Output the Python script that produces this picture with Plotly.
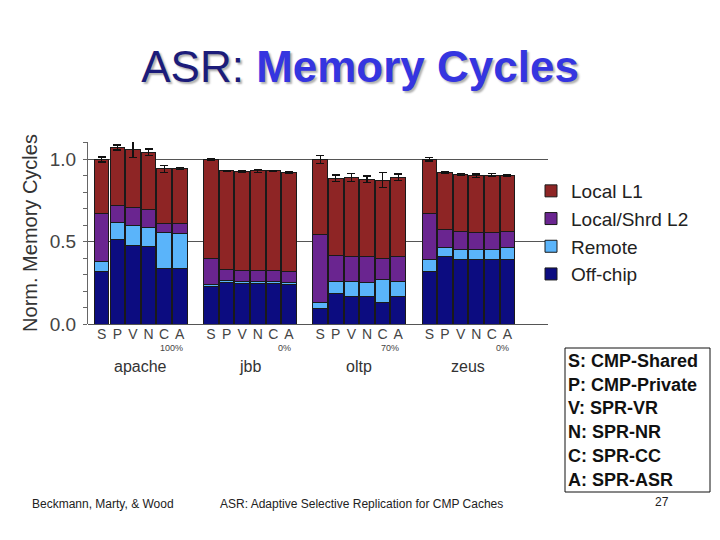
import plotly.graph_objects as go

workloads = ["apache", "jbb", "oltp", "zeus"]
configs = ["S", "P", "V", "N", "C", "A"]
pct_labels = ["100%", "0%", "70%", "0%"]
pct_offsets = [4.5, 4.7, 4.5, 4.7]

# segment heights per bar, workload by workload (S P V N C A)
off_chip = [0.318, 0.516, 0.480, 0.474, 0.340, 0.336,
            0.227, 0.251, 0.247, 0.247, 0.247, 0.239,
            0.095, 0.186, 0.166, 0.166, 0.132, 0.166,
            0.322, 0.409, 0.393, 0.393, 0.393, 0.389]
remote = [0.061, 0.102, 0.117, 0.113, 0.219, 0.213,
          0.016, 0.012, 0.010, 0.010, 0.012, 0.016,
          0.035, 0.071, 0.091, 0.087, 0.139, 0.091,
          0.067, 0.055, 0.061, 0.057, 0.061, 0.073]
local_l2 = [0.293, 0.105, 0.112, 0.106, 0.051, 0.061,
            0.156, 0.069, 0.067, 0.067, 0.069, 0.063,
            0.411, 0.158, 0.154, 0.156, 0.128, 0.156,
            0.283, 0.111, 0.107, 0.107, 0.103, 0.099]
local_l1 = [0.328, 0.350, 0.352, 0.350, 0.332, 0.336,
            0.601, 0.600, 0.603, 0.606, 0.602, 0.605,
            0.459, 0.470, 0.480, 0.470, 0.476, 0.478,
            0.328, 0.344, 0.348, 0.344, 0.348, 0.344]
err = [0.015, 0.015, 0.048, 0.020, 0.020, 0.005,
       0.003, 0.003, 0.003, 0.010, 0.003, 0.005,
       0.025, 0.020, 0.025, 0.020, 0.045, 0.020,
       0.010, 0.005, 0.008, 0.010, 0.008, 0.005]

key_lines = ["S: CMP-Shared", "P: CMP-Private", "V: SPR-VR",
             "N: SPR-NR", "C: SPR-CC", "A: SPR-ASR"]

# bar positions: 6 bars per workload, one empty slot between workloads
xpos = [g * 7 + i for g in range(len(workloads)) for i in range(len(configs))]
ticktext = configs * len(workloads)

font = "Liberation Sans, Arial"
outline = dict(color="#1a1a1a", width=1)

# page has an 8px body margin; plot area on screen is x 88..548, y 142..324
def px(x):
    return (x - 88) / 460

def py(y):
    return (324 - y) / 182

fig = go.Figure()
fig.add_trace(go.Bar(x=xpos, y=off_chip, name="Off-chip",
                     marker=dict(color="#0c0c80", line=outline)))
fig.add_trace(go.Bar(x=xpos, y=remote, name="Remote",
                     marker=dict(color="#5ab4fa", line=outline)))
fig.add_trace(go.Bar(x=xpos, y=local_l2, name="Local/Shrd L2",
                     marker=dict(color="#6a2590", line=outline)))
fig.add_trace(go.Bar(x=xpos, y=local_l1, name="Local L1",
                     marker=dict(color="#8e2525", line=outline),
                     error_y=dict(type="data", array=err, color="#111",
                                  thickness=1.2, width=4)))

for g, w in enumerate(workloads):
    fig.add_annotation(x=g * 7 + 2.5, y=py(366), xref="x", yref="paper",
                       yanchor="middle", text=w, showarrow=False,
                       font=dict(family=font, size=16, color="#333"))
    fig.add_annotation(x=g * 7 + pct_offsets[g], y=py(348), xref="x",
                       yref="paper", yanchor="middle", text=pct_labels[g],
                       showarrow=False,
                       font=dict(family=font, size=9, color="#444"))

# configuration key box
fig.add_shape(type="rect", xref="paper", yref="paper",
              x0=px(565), x1=px(710), y0=py(492), y1=py(348),
              line=dict(color="#111", width=1), fillcolor="white")
for k, line in enumerate(key_lines):
    fig.add_annotation(x=px(566), y=py(361 + k * 23.7),
                       xref="paper", yref="paper", xanchor="left",
                       yanchor="middle", text="<b>" + line + "</b>",
                       showarrow=False,
                       font=dict(family="Liberation Sans, Arial", size=18,
                                 color="#111"))

# footer
footer = [("Beckmann, Marty, & Wood", 30),
          ("ASR: Adaptive Selective Replication for CMP Caches", 218)]
for txt, x0 in footer:
    fig.add_annotation(x=px(x0), y=py(504), xref="paper", yref="paper",
                       xanchor="left", yanchor="middle", text=txt,
                       showarrow=False,
                       font=dict(family=font, size=12, color="#222"))
fig.add_annotation(x=px(671), y=py(502), xref="paper", yref="paper",
                   yanchor="middle", text="27", showarrow=False,
                   font=dict(family=font, size=12, color="#222"))

fig.update_layout(
    width=720, height=540,
    margin=dict(l=80, r=180, t=134, b=224, autoexpand=False),
    paper_bgcolor="white", plot_bgcolor="white",
    barmode="stack", bargap=0.07,
    title=dict(
        text="<span style='color:#1c1c7a'>ASR: </span>"
             "<b><span style='color:#3535e0'>Memory Cycles</span></b>",
        x=0.489, xanchor="center", y=1 - 59 / 540, yanchor="middle",
        font=dict(family="Liberation Sans, Arial", size=44,
                  shadow="2px 2px 2px #b0b0b0")),
    legend=dict(x=px(531), y=py(172), xanchor="left", yanchor="top",
                traceorder="reversed",
                font=dict(family=font, size=19, color="#222"),
                itemwidth=30, tracegroupgap=0, bgcolor="rgba(0,0,0,0)"),
    showlegend=True,
)
fig.update_xaxes(range=[-0.88, 28.6], tickvals=xpos, ticktext=ticktext,
                 tickfont=dict(family=font, size=14, color="#444"),
                 showgrid=False, zeroline=False, showline=False, ticks="",
                 automargin=False)
fig.update_yaxes(range=[0, 1.106], tickvals=[0, 0.5, 1.0],
                 ticktext=["0.0", "0.5", "1.0"],
                 tickfont=dict(family=font, size=19, color="#444"),
                 showgrid=True, gridcolor="#555", gridwidth=1,
                 zeroline=True, zerolinecolor="#555", zerolinewidth=1,
                 showline=True, linecolor="#666", linewidth=1,
                 ticks="outside", ticklen=4, tickcolor="#666",
                 ticklabelstandoff=3,
                 minor=dict(dtick=0.1, ticks="outside", ticklen=4,
                            tickcolor="#666", showgrid=False),
                 automargin=False,
                 title=dict(text="Norm. Memory Cycles", standoff=6,
                            font=dict(family=font, size=20, color="#333")))

fig.write_html("out.html")
